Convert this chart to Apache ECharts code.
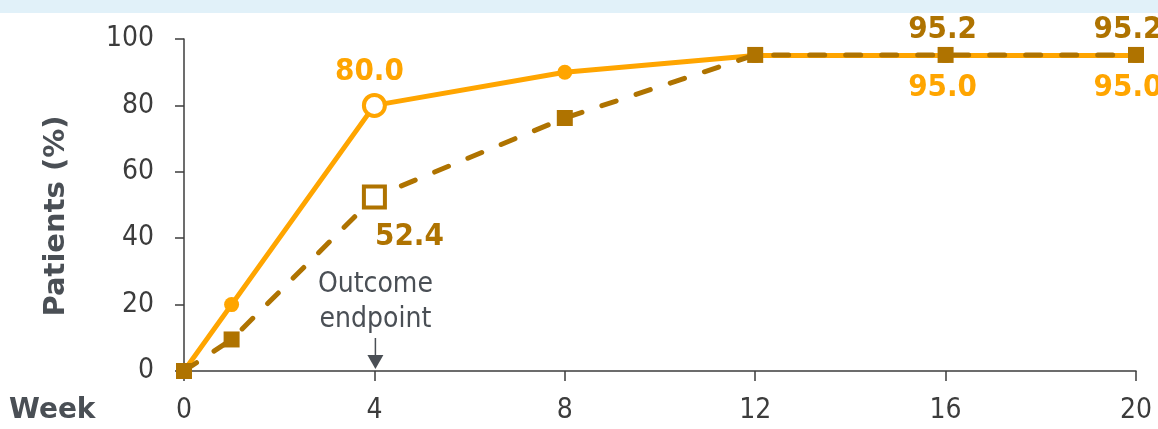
<!DOCTYPE html>
<html><head><meta charset="utf-8">
<script src="https://cdn.jsdelivr.net/npm/echarts@6/dist/echarts.min.js"></script>
<style>html,body{margin:0;padding:0;background:#fff}#c{width:1158px;height:429px}</style>
</head><body><div id="c"></div>
<script>
var weeks = [0, 1, 4, 8, 12, 16, 20];
var solidValues = [0, 20, 80.0, 90, 95, 95.0, 95.0];
var dashedValues = [0, 9.5, 52.4, 76.2, 95.2, 95.2, 95.2];
var xTicks = [0, 4, 8, 12, 16, 20];
var yTicks = [0, 20, 40, 60, 80, 100];

var ORANGE = '#FFA500', DARK = '#AF7300', AXIS = '#3c3c3c', GRAY = '#4a4f55';
var FONT = '"DejaVu Sans Condensed", "DejaVu Sans"';

function lbl(text, color, off) {
  return { show: true, formatter: text, position: 'inside', offset: off, color: color,
    fontFamily: FONT, fontWeight: 'bold', fontSize: 31, align: 'center', verticalAlign: 'middle' };
}

var solidData = weeks.map(function (w, i) {
  var d = { value: [w, solidValues[i]] };
  if (w === 4) {
    d.symbolSize = 21;
    d.itemStyle = { color: '#fff', borderColor: ORANGE, borderWidth: 4 };
    d.label = lbl(solidValues[i].toFixed(1), ORANGE, [-5, -33]);
  }
  if (w === 16) d.label = lbl(solidValues[i].toFixed(1), ORANGE, [-3, 32]);
  if (w === 20) d.label = lbl(solidValues[i].toFixed(1), ORANGE, [-8, 32]);
  return d;
});
var dashedData = weeks.map(function (w, i) {
  var d = { value: [w, dashedValues[i]] };
  if (w === 4) {
    d.symbolSize = 21;
    d.itemStyle = { color: '#fff', borderColor: DARK, borderWidth: 4 };
    d.label = lbl(dashedValues[i].toFixed(1), DARK, [35, 40]);
  }
  if (w === 16) d.label = lbl(dashedValues[i].toFixed(1), DARK, [-3, -25]);
  if (w === 20) d.label = lbl(dashedValues[i].toFixed(1), DARK, [-8, -25]);
  return d;
});

var chart = echarts.init(document.getElementById('c'), null, { renderer: 'canvas' });
chart.setOption({
  animation: false,
  backgroundColor: '#fff',
  grid: { left: 184, right: 22, top: 39, bottom: 58, containLabel: false },
  xAxis: {
    type: 'value', min: xTicks[0], max: xTicks[xTicks.length - 1], interval: 4,
    axisLine: { show: true, lineStyle: { color: AXIS, width: 1.5 } },
    axisTick: { show: true, length: 10, inside: false, lineStyle: { color: AXIS, width: 1.5 } },
    axisLabel: { color: AXIS, fontFamily: FONT, fontSize: 28, margin: 26 },
    splitLine: { show: false }
  },
  yAxis: {
    type: 'value', min: yTicks[0], max: yTicks[yTicks.length - 1], interval: 20,
    axisLine: { show: true, lineStyle: { color: AXIS, width: 1.5 } },
    axisTick: { show: true, length: 9, lineStyle: { color: AXIS, width: 1.5 } },
    axisLabel: { color: AXIS, fontFamily: FONT, fontSize: 28, margin: 30 },
    splitLine: { show: false }
  },
  series: [
    {
      type: 'line', data: solidData, z: 2,
      symbol: 'circle', symbolSize: 15,
      lineStyle: { color: ORANGE, width: 5 },
      itemStyle: { color: ORANGE },
      label: { show: false }
    },
    {
      type: 'line', data: dashedData, z: 3,
      symbol: 'rect', symbolSize: 16,
      lineStyle: { color: DARK, width: 5, type: [15, 21], cap: 'round' },
      itemStyle: { color: DARK },
      label: { show: false }
    }
  ]
});

var p = chart.convertToPixel({ gridIndex: 0 }, [4, 0]);
var ax = p[0], ay = p[1];
chart.setOption({
  graphic: [
    { type: 'rect', shape: { x: 0, y: 0, width: 1158, height: 13 }, style: { fill: '#E1F1F9' }, z: 0 },
    { type: 'text', x: 56, y: 216, rotation: Math.PI / 2,
      style: { text: 'Patients (%)', fill: GRAY, font: 'bold 29px "DejaVu Sans"', textAlign: 'center', textVerticalAlign: 'middle' } },
    { type: 'text', x: 9, y: 411,
      style: { text: 'Week', fill: GRAY, font: 'bold 28px "DejaVu Sans"', textAlign: 'left', textVerticalAlign: 'middle' } },
    { type: 'text', x: ax + 1, y: 302,
      style: { text: 'Outcome\nendpoint', fill: GRAY, font: '28px "DejaVu Sans Condensed", "DejaVu Sans"', lineHeight: 35, textAlign: 'center', textVerticalAlign: 'middle' } },
    { type: 'line', shape: { x1: ax + 1, y1: 338, x2: ax + 1, y2: 358 }, style: { stroke: GRAY, lineWidth: 1.5 } },
    { type: 'polygon', shape: { points: [[ax - 7, 355], [ax + 9, 355], [ax + 1, 369]] }, style: { fill: GRAY } }
  ]
});
</script></body></html>
